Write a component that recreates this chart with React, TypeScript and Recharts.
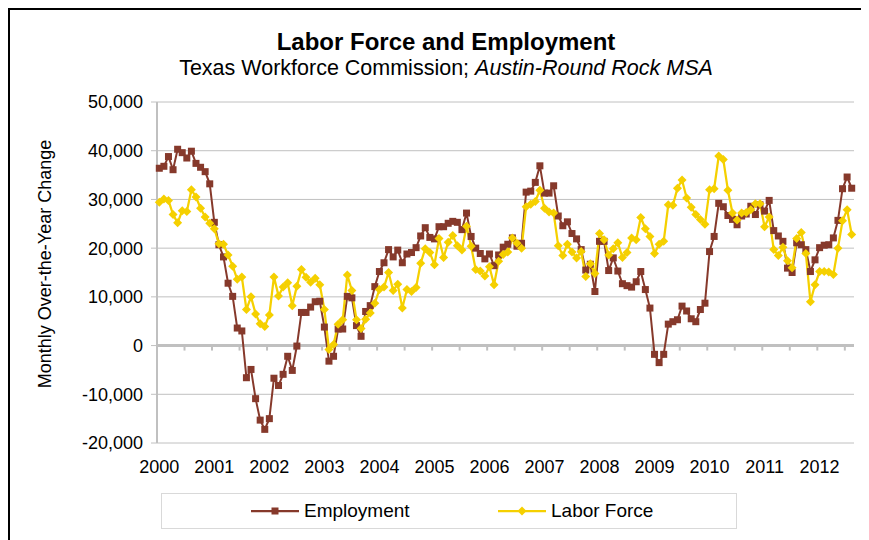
import React from 'react';
import { LineChart, Line, XAxis, YAxis, CartesianGrid, ReferenceLine } from 'recharts';

const years = [2000, 2001, 2002, 2003, 2004, 2005, 2006, 2007, 2008, 2009, 2010, 2011, 2012];
const monthsInLastYear = 8; // Daten bis August 2012

// Beschäftigung, Veränderung gegenüber Vorjahresmonat
const employment = [
  36400, 36800, 38800, 36100, 40300, 39600, 38500, 39900, 37400, 36600, 35700, 33200,
  25300, 20700, 18200, 12800, 10100, 3600, 3000, -6600, -4900, -10900, -15300, -17200,
  -15000, -6700, -8200, -5900, -2200, -5100, -100, 6800, 6800, 7900, 9000, 9100,
  3800, -3200, -2200, 3400, 3400, 10100, 9800, 4100, 1900, 7000, 8200, 12100,
  15200, 17000, 19700, 18200, 19600, 17000, 18800, 19100, 20100, 22500, 24200, 22200,
  21900, 24400, 24400, 25100, 25500, 25300, 23800, 27200, 22400, 20000, 18900, 17800,
  18800, 16400, 18600, 20200, 20800, 22100, 20400, 21000, 31500, 31700, 33500, 36900,
  31300, 31300, 32800, 26600, 24600, 25400, 23000, 21900, 19700, 15500, 16700, 11100,
  21400, 21400, 15400, 18000, 15300, 12700, 12300, 12000, 13100, 15200, 11500, 7700,
  -1800, -3500, -1800, 4400, 4900, 5300, 8100, 7100, 5500, 4900, 7400, 8700,
  19300, 22400, 29200, 28500, 26700, 25900, 24800, 26600, 27000, 28600, 26900, 28900,
  27600, 29800, 23600, 22500, 21400, 15900, 15000, 21100, 20700, 19700, 15200, 17600,
  20100, 20600, 20700, 22100, 25700, 32200, 34600, 32300,
];

// Erwerbspersonen, Veränderung gegenüber Vorjahresmonat
const laborForce = [
  29400, 30100, 29800, 26900, 25200, 27700, 27500, 32000, 30500, 28200, 26400, 25100,
  24000, 20900, 20800, 18600, 16300, 13600, 14100, 7400, 10000, 6500, 4500, 3900,
  6300, 14100, 10200, 12000, 12900, 8200, 12200, 15600, 14000, 13000, 13800, 12500,
  7400, -800, 200, 4400, 5300, 14500, 11300, 5300, 3500, 5400, 6700, 8700,
  11500, 12000, 15000, 11300, 12600, 7700, 11500, 11100, 11900, 16900, 19900, 19100,
  16600, 22000, 18100, 21200, 22600, 20500, 19600, 24500, 20400, 15600, 15300, 14300,
  16200, 12500, 17300, 18700, 19200, 22100, 21000, 20000, 28500, 29000, 29600, 31900,
  28200, 27400, 27200, 20500, 18500, 20800, 19200, 18000, 19300, 14200, 16800, 14800,
  23000, 21700, 18600, 19900, 21100, 18100, 19100, 22100, 21700, 26300, 24000, 22400,
  18900, 20800, 21400, 28900, 28800, 32300, 34000, 30300, 28400, 26900, 25900, 24900,
  32000, 32200, 38900, 38200, 31900, 27200, 25800, 27200, 27300, 27900, 29100, 29100,
  24400, 26400, 19700, 18500, 20200, 17400, 16000, 22000, 23200, 18900, 9000, 12500,
  15200, 15200, 15100, 14600, 20000, 25600, 27900, 22800,
];

const yTicks = [-20000, -10000, 0, 10000, 20000, 30000, 40000, 50000];

const EMP_COLOR = '#86392b';
const LF_COLOR = '#f5d000';
const GRID = '#c0c0c0';
const FONT = '"Liberation Sans", Arial, sans-serif';

const categories: string[] = [];
years.forEach((y, yi) => {
  const n = yi === years.length - 1 ? monthsInLastYear : 12;
  for (let m = 1; m <= n; m++) categories.push(`${y}-${String(m).padStart(2, '0')}`);
});
const janTicks = categories.filter((c) => c.endsWith('-01'));

const data = categories.map((c, i) => ({
  month: c,
  Employment: employment[i],
  'Labor Force': laborForce[i],
}));

const SquareDot = (props: any) => {
  const { cx, cy, index } = props;
  if (cx == null || cy == null) return <g key={`e${index}`} />;
  return <rect key={`e${index}`} x={cx - 3.5} y={cy - 3.5} width={7} height={7} fill={EMP_COLOR} />;
};

const DiamondDot = (props: any) => {
  const { cx, cy, index } = props;
  if (cx == null || cy == null) return <g key={`l${index}`} />;
  const r = 4.5;
  return (
    <polygon
      key={`l${index}`}
      points={`${cx},${cy - r} ${cx + r},${cy} ${cx},${cy + r} ${cx - r},${cy}`}
      fill={LF_COLOR}
    />
  );
};

// Nulllinie mit Teilstrichen alle 6 Monate (Kategoriegrenzen)
const ZeroAxis = (props: any) => {
  const { x1, y1, x2 } = props;
  const step = ((x2 - x1) * 6) / categories.length;
  const marks = [];
  for (let k = 0; x1 + k * step <= x2 + 0.5; k++) {
    const x = x1 + k * step;
    marks.push(<line key={k} x1={x} x2={x} y1={y1} y2={y1 + 5} stroke={GRID} strokeWidth={2} />);
  }
  return (
    <g>
      <line x1={x1} x2={x2} y1={y1} y2={y1} stroke={GRID} strokeWidth={3} />
      {marks}
    </g>
  );
};

const legendItems = [
  { name: 'Employment', color: EMP_COLOR, marker: 'square' },
  { name: 'Labor Force', color: LF_COLOR, marker: 'diamond' },
];

const App = () => {
  return (
    <div style={{ position: 'relative', width: 861, height: 532, fontFamily: FONT, color: '#000', overflow: 'hidden' }}>
      <style>{'html, body { overflow: hidden; }'}</style>
      <div
        style={{
          position: 'absolute', left: 0, top: 0, right: 0, bottom: 0,
          borderTop: '2px solid #000', borderLeft: '2px solid #000',
        }}
      />
      <div style={{ position: 'absolute', left: 0, width: 876, top: 22, textAlign: 'center', fontSize: 24, lineHeight: '24px', fontWeight: 'bold' }}>
        Labor Force and Employment
      </div>
      <div style={{ position: 'absolute', left: 0, width: 876, top: 49, textAlign: 'center', fontSize: 21.5, lineHeight: '22px' }}>
        Texas Workforce Commission; <i>Austin-Round Rock MSA</i>
      </div>

      <LineChart
        width={861}
        height={532}
        data={data}
        margin={{ top: 94, right: 15, bottom: 67, left: 0 }}
        style={{ position: 'absolute', left: 0, top: 0 }}
      >
        <CartesianGrid vertical={false} stroke={GRID} strokeWidth={1} />
        <XAxis
          dataKey="month"
          ticks={janTicks}
          interval={0}
          tickFormatter={(v: string) => v.slice(0, 4)}
          axisLine={false}
          tickLine={false}
          tickSize={0}
          tickMargin={17}
          height={30}
          padding={{ left: 2.3, right: 2.3 }}
          tick={{ fontSize: 18, fill: '#000', fontFamily: FONT }}
        />
        <YAxis
          domain={[-20000, 50000]}
          ticks={yTicks}
          width={149}
          tickFormatter={(v: number) => v.toLocaleString('en-US')}
          axisLine={{ stroke: GRID, strokeWidth: 2 }}
          tickLine={{ stroke: GRID }}
          tickSize={6}
          tickMargin={8}
          tick={{ fontSize: 18, fill: '#000', fontFamily: FONT }}
          label={{
            content: () => (
              <text
                x={43}
                y={256}
                transform="rotate(-90 43 256)"
                textAnchor="middle"
                fontSize={18}
                fontFamily={FONT}
                fill="#000"
              >
                Monthly Over-the-Year Change
              </text>
            ),
          }}
        />
        <YAxis yAxisId="right" orientation="right" width={0} tick={false} tickLine={false} axisLine={{ stroke: GRID, strokeWidth: 1.5 }} />
        <ReferenceLine y={0} shape={ZeroAxis} />
        <Line
          type="linear"
          dataKey="Employment"
          stroke={EMP_COLOR}
          strokeWidth={2}
          dot={SquareDot}
          activeDot={false}
          isAnimationActive={false}
        />
        <Line
          type="linear"
          dataKey="Labor Force"
          stroke={LF_COLOR}
          strokeWidth={2.25}
          dot={DiamondDot}
          activeDot={false}
          isAnimationActive={false}
        />
      </LineChart>

      <div
        style={{
          position: 'absolute', left: 153, top: 485, width: 576, height: 36,
          boxSizing: 'border-box', border: '1px solid #d9d9d9',
        }}
      >
        {legendItems.map((it, i) => (
          <div
            key={it.name}
            style={{
              position: 'absolute', left: i === 0 ? 89 : 336, top: 0, height: 34,
              display: 'flex', alignItems: 'center', fontSize: 19,
            }}
          >
            <svg width={50} height={12} style={{ marginRight: 3 }}>
              <line x1={0} x2={48} y1={6} y2={6} stroke={it.color} strokeWidth={2.25} />
              {it.marker === 'square' ? (
                <rect x={20.5} y={2.5} width={7} height={7} fill={it.color} />
              ) : (
                <polygon points="24,1.5 28.5,6 24,10.5 19.5,6" fill={it.color} />
              )}
            </svg>
            <span>{it.name}</span>
          </div>
        ))}
      </div>
    </div>
  );
};

export default App;
